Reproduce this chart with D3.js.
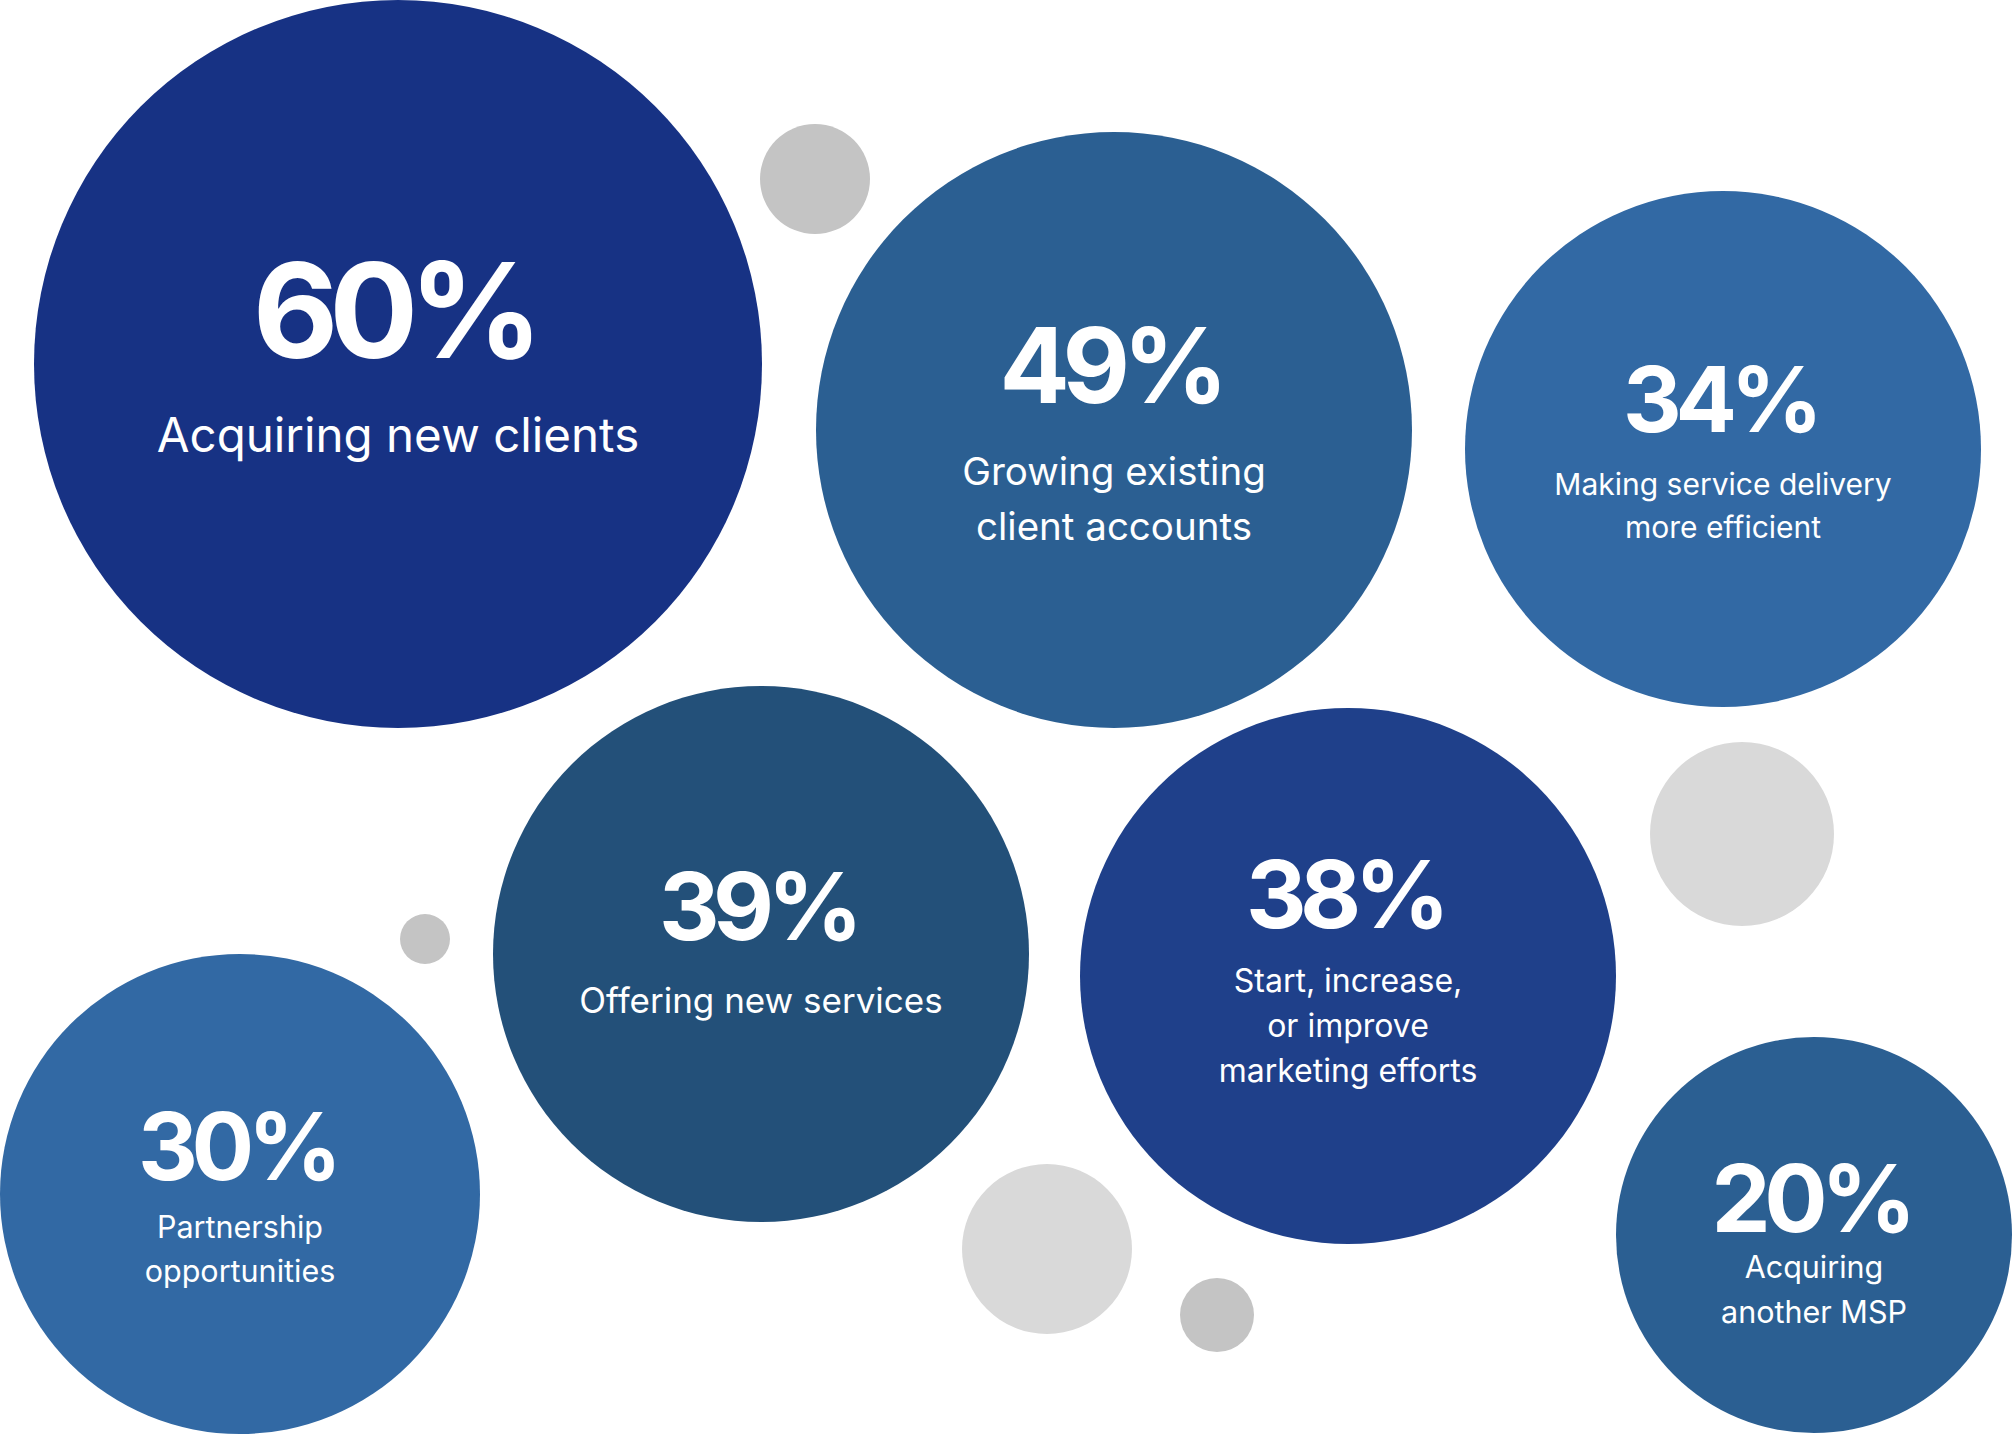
<!DOCTYPE html>
<html>
<head>
<meta charset="utf-8">
<script src="https://cdn.jsdelivr.net/npm/d3@7"></script>
<style>
  html, body { margin: 0; padding: 0; background: #ffffff; }
  svg { display: block; }
  text { font-family: Inter, "Noto Sans", sans-serif; fill: #ffffff; }
</style>
</head>
<body>
<svg id="chart" width="2012" height="1434"></svg>
<script>
// Survey results: share of respondents naming each growth priority
const categories = [
  "Acquiring new clients",
  "Growing existing client accounts",
  "Making service delivery more efficient",
  "Offering new services",
  "Start, increase, or improve marketing efforts",
  "Partnership opportunities",
  "Acquiring another MSP"
];
const values = [60, 49, 34, 39, 38, 30, 20];

// Line breaks used for each category label
const labelLines = [
  ["Acquiring new clients"],
  ["Growing existing", "client accounts"],
  ["Making service delivery", "more efficient"],
  ["Offering new services"],
  ["Start, increase,", "or improve", "marketing efforts"],
  ["Partnership", "opportunities"],
  ["Acquiring", "another MSP"]
];

// Hand-placed bubble layout (centre, radius, colour, type sizes)
const bubbleLayout = [
  { cx: 398,  cy: 364,  r: 364, fill: "#173284", pctSize: 132, pctY: -6,  labelSize: 47.5, labelY: 88, lineGap: 0 },
  { cx: 1114, cy: 430,  r: 298, fill: "#2b5f92", pctSize: 104, pctY: -27, labelSize: 38.5, labelY: 55, lineGap: 55 },
  { cx: 1723, cy: 449,  r: 258, fill: "#3269a4", pctSize: 91,  pctY: -17, labelSize: 30,   labelY: 46, lineGap: 43 },
  { cx: 761,  cy: 954,  r: 268, fill: "#235079", pctSize: 94,  pctY: -14, labelSize: 35,   labelY: 59, lineGap: 0 },
  { cx: 1348, cy: 976,  r: 268, fill: "#1f408a", pctSize: 94,  pctY: -48, labelSize: 32,   labelY: 16, lineGap: 45 },
  { cx: 240,  cy: 1194, r: 240, fill: "#3269a4", pctSize: 93,  pctY: -14, labelSize: 30.5, labelY: 44, lineGap: 44 },
  { cx: 1814, cy: 1235, r: 198, fill: "#2b5f92", pctSize: 94,  pctY: -3,  labelSize: 30.5, labelY: 43, lineGap: 45 }
];

// Decorative grey dots
const dots = [
  { cx: 815,  cy: 179,  r: 55, fill: "#c4c4c4" },
  { cx: 1742, cy: 834,  r: 92, fill: "#d9d9d9" },
  { cx: 425,  cy: 939,  r: 25, fill: "#c4c4c4" },
  { cx: 1047, cy: 1249, r: 85, fill: "#d9d9d9" },
  { cx: 1217, cy: 1315, r: 37, fill: "#c4c4c4" }
];

// Tight tracking for the big figures (em units)
const pctTracking = -0.07;

const svg = d3.select("#chart");
const pct = d3.format(".0%");

svg.append("g").attr("class", "dots")
  .selectAll("circle")
  .data(dots)
  .join("circle")
  .attr("cx", d => d.cx)
  .attr("cy", d => d.cy)
  .attr("r", d => d.r)
  .attr("fill", d => d.fill);

const bubbles = categories.map((c, i) => ({
  category: c,
  value: values[i],
  lines: labelLines[i],
  ...bubbleLayout[i]
}));

const g = svg.append("g").attr("class", "bubbles")
  .selectAll("g")
  .data(bubbles)
  .join("g")
  .attr("transform", d => `translate(${d.cx},${d.cy})`);

g.append("circle")
  .attr("r", d => d.r)
  .attr("fill", d => d.fill);

// trailing letter-spacing shifts centred text; offset by half of it
g.append("text")
  .attr("class", "pct")
  .attr("text-anchor", "middle")
  .attr("x", d => pctTracking * d.pctSize / 2)
  .attr("y", d => d.pctY)
  .attr("font-size", d => d.pctSize)
  .attr("font-weight", 700)
  .style("letter-spacing", `${pctTracking}em`)
  .text(d => pct(d.value / 100));

g.append("text")
  .attr("class", "label")
  .attr("text-anchor", "middle")
  .attr("font-size", d => d.labelSize)
  .attr("font-weight", 400)
  .selectAll("tspan")
  .data(d => d.lines.map((line, k) => ({ line, y: d.labelY + k * d.lineGap })))
  .join("tspan")
  .attr("x", 0)
  .attr("y", t => t.y)
  .text(t => t.line);
</script>
</body>
</html>
